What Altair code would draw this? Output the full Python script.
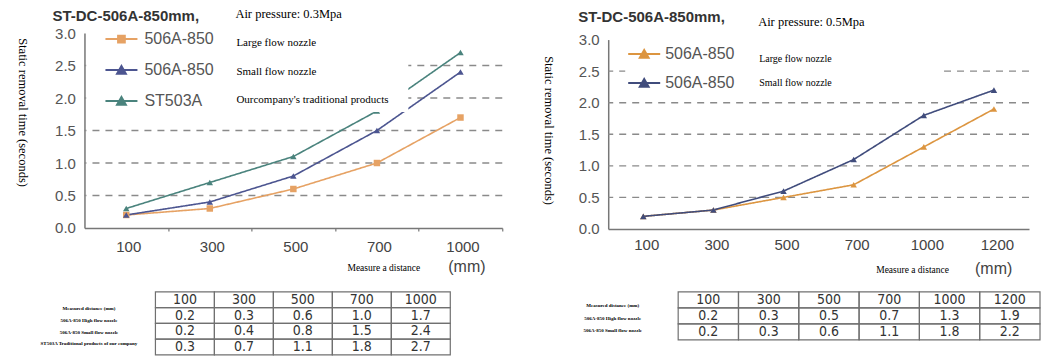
import altair as alt
import pandas as pd

# ---------------- data ----------------
dist_l = ["100", "300", "500", "700", "1000"]
large_l = [0.2, 0.3, 0.6, 1.0, 1.7]
small_l = [0.2, 0.4, 0.8, 1.5, 2.4]
trad_l = [0.3, 0.7, 1.1, 1.8, 2.7]

dist_r = ["100", "300", "500", "700", "1000", "1200"]
large_r = [0.2, 0.3, 0.5, 0.7, 1.3, 1.9]
small_r = [0.2, 0.3, 0.6, 1.1, 1.8, 2.2]

series_l = ["506A-850 L", "506A-850 S", "ST503A"]
series_r = ["506A-850 L", "506A-850 S"]
desc_l = ["Large flow nozzle", "Small flow nozzle", "Ourcompany's traditional products"]
desc_r = ["Large  flow nozzle", "Small flow nozzle"]
rows_l = ["Measured distance (mm)", "506A-850 High flow nozzle",
          "506A-850 Small flow nozzle", "ST503A Traditional products of our company"]
rows_r = rows_l[:3]

title_main = "ST-DC-506A-850mm,"
press_l = "Air pressure: 0.3Mpa"
press_r = "Air pressure: 0.5Mpa"
y_title = "Static removal time (seconds)"
x_title = "Measure a distance"
unit_txt = "(mm)"
y_ticks = [0.0, 0.5, 1.0, 1.5, 2.0, 2.5, 3.0]
grid_vals = [0.5, 1.0, 1.5, 2.0, 2.5]

colors_l = ["#e6a264", "#4c5590", "#4a837d"]
colors_r = ["#dc9540", "#404c7c"]
shapes_l = ["square", "triangle-up", "triangle-up"]
shapes_r = ["triangle-up", "triangle-up"]

SANS = "Liberation Sans"
SERIF = "Liberation Serif"
NARROW = "Liberation Sans Narrow, DejaVu Sans Condensed, Liberation Sans"
NBSP = "\u00a0"
ZWSP = "\u200b"

TRI = "M-2,0H2M-0.55,0.45L0,-0.5L0.55,0.45Z"
SQR = "M-2,0H2M-0.42,-0.42H0.42V0.42H-0.42Z"


def make_plot(dist, vals, series, desc, colors, shapes, press, L):
    recs = []
    for s, d, vv in zip(series, desc, vals):
        for x, v in zip(dist, vv):
            recs.append({"dist": x, "value": v, "series": s, "mk": s + " marker", "desc": d})
    df = pd.DataFrame(recs)
    markers = [s + " marker" for s in series]
    W, H = L["w"], L["h"]
    step = W / len(dist)

    xaxis = alt.Axis(
        labelAngle=0, labelFont=SANS, labelFontSize=15, labelColor="#444",
        labelPadding=L["lp"], domainColor="#777", domainWidth=1.5,
        ticks=L["ticks"], tickSize=3, tickColor="#777", tickWidth=1.2,
        tickOffset=(step / 2 if L["ticks"] else 0),
        labelOffset=((-step / 2 + 2) if L["ticks"] else 3),
        grid=False, titleFont=SERIF, titleFontSize=9.5, titleFontWeight="normal",
        titleColor="black", titleX=L["xtx"], titleY=L["xty"], titleAlign="center",
        titleBaseline="middle")
    xenc = alt.X("dist:O", sort=dist, title=x_title,
                 scale=alt.Scale(type="point", padding=0.5), axis=xaxis)

    yscale = alt.Scale(domain=[0, 3], nice=False, range=L["yrange"])
    yaxis = alt.Axis(
        values=y_ticks, format=".1f", labelFont=SANS, labelFontSize=15, labelColor="#555",
        labelPadding=9, ticks=False, domainColor="#777", domainWidth=1.5, grid=False,
        titleFont=SERIF, titleFontSize=12.5, titleFontWeight="normal", titleColor="black",
        titleAngle=90, titleX=L["ytx"], titleY=L["yty"], titleAlign="center",
        titleBaseline="middle")
    yenc = alt.Y("value:Q", title=y_title, scale=yscale, axis=yaxis)

    grid = alt.Chart(pd.DataFrame({"value": grid_vals})).mark_rule(
        color="#8a8a8a", strokeDash=[7, 6], strokeWidth=1.4).encode(
        y=alt.Y("value:Q", scale=yscale, axis=yaxis, title=y_title))

    # series legend: white box that hides what lies under it
    color_legend = alt.Legend(
        orient="none", legendX=L["cx"], legendY=L["cy"], title=None, direction="vertical",
        labelExpr="split(datum.label, ' ')[0] + '" + NBSP * L["cpad"] + ZWSP + "'",
        labelFont=SANS, labelFontSize=16, labelColor="#555", labelLimit=900,
        symbolType=L["sym"], symbolSize=256, symbolStrokeWidth=2, symbolOffset=L["cso"],
        labelOffset=L["clo"], rowPadding=L["crp"], padding=3, fillColor="white", zindex=1)
    cscale = alt.Scale(domain=series, range=colors)
    color = alt.Color("series:N", scale=cscale, legend=color_legend)

    # description legend (serif notes) with the air-pressure note as its title
    desc_legend = alt.Legend(
        orient="none", legendX=L["dlx"], legendY=L["dly"], direction="vertical",
        title=press, titleFont=SERIF, titleFontSize=12.5, titleFontWeight="normal",
        titleColor="black", titleAnchor="start", titleAlign="left", titlePadding=L["dtp"],
        titleLimit=600,
        labelFont=SERIF, labelFontSize=L["dfs"], labelColor="black", labelLimit=600,
        labelOffset=alt.ExprRef(expr="-13"), symbolType="square", symbolSize=196,
        symbolStrokeWidth=0, symbolOpacity=0, padding=0, rowPadding=L["drp"], zindex=2)
    dash = alt.StrokeDash("desc:N", scale=alt.Scale(domain=desc, range=[[1, 0]] * len(desc)),
                          legend=desc_legend)

    lines = alt.Chart(df).mark_line(strokeWidth=1.6).encode(
        x=xenc, y=yenc, color=color, strokeDash=dash)
    points = alt.Chart(df).mark_point(filled=True, size=42, opacity=1).encode(
        x=xenc, y=yenc,
        color=alt.Color("series:N", scale=cscale, legend=None),
        shape=alt.Shape("mk:N", scale=alt.Scale(domain=markers, range=shapes), legend=None))

    return alt.layer(grid, lines, points).properties(
        width=W, height=H,
        title=alt.Title(title_main, font=SANS, fontSize=15, fontWeight="bold", color="#333",
                        anchor="start", frame="group", dx=L["tdx"], dy=L["tdy"], offset=0))


def make_table(dist, vals, rows, L):
    trecs = [{"row": rows[0], "col": c, "txt": c} for c in dist]
    for r, vv in zip(rows[1:], vals):
        for c, v in zip(dist, vv):
            trecs.append({"row": r, "col": c, "txt": "%.1f" % v})
    tdf = pd.DataFrame(trecs)
    tx = alt.X("col:O", sort=dist, axis=None,
               scale=alt.Scale(range=L["trange"], paddingInner=0, paddingOuter=0))
    ty = alt.Y("row:O", sort=rows, axis=None,
               scale=alt.Scale(paddingInner=0, paddingOuter=0))
    rects = alt.Chart(tdf).mark_rect(fillOpacity=0, stroke="#707070", strokeWidth=1.2).encode(
        x=tx, y=ty)
    texts = alt.Chart(tdf).mark_text(font=NARROW, fontSize=14, color="#333").encode(
        x=tx, y=ty, text="txt:N")
    labs = alt.Chart(pd.DataFrame({"row": rows})).mark_point(opacity=0).encode(
        y=alt.Y("row:O", sort=rows, title=None,
                scale=alt.Scale(type="point", range=L["lrange"], padding=0),
                axis=alt.Axis(orient="left", offset=-4, domain=False, ticks=False, tickSize=0,
                              labelFont=SERIF, labelFontSize=5, labelFontWeight="bold",
                              labelColor="black", labelAlign="center", labelPadding=0,
                              labelLimit=0, labelOverlap=False, title=None)))
    return alt.layer(alt.layer(rects, texts), labs).resolve_scale(y="independent").properties(
        width=L["w"], height=L["th"],
        title=alt.Title(unit_txt, font=SANS, fontSize=16, fontWeight="normal", color="#444",
                        anchor="start", frame="group", dx=L["udx"], offset=L["uoff"]))


L_left = dict(w=418, h=195, yrange=[195, 0], lp=9, ticks=True, xtx=299, xty=40,
              ytx=-62, yty=79,
              sym=alt.ExprRef(expr="datum.value === '506A-850 L' ? '%s' : '%s'" % (SQR, TRI)),
              cx=2, cy=-6, cso=23, clo=14, crp=14, cpad=43,
              dlx=151, dly=-25, dtp=15.5, dfs=11, drp=14.5,
              tdx=-32, tdy=16,
              trange=[71, 366], th=63, lrange=[16, 51], udx=364, uoff=16)
L_right = dict(w=421, h=196, yrange=[196, 6.5], lp=9, ticks=False, xtx=304, xty=41,
               ytx=-60, yty=97, sym=TRI,
               cx=17, cy=9, cso=7, clo=12, crp=12, cpad=46,
               dlx=150, dly=-17.25, dtp=23.5, dfs=10, drp=10,
               tdx=-30, tdy=9.25,
               trange=[70, 432], th=48, lrange=[13, 38], udx=367, uoff=14)

plot_l = make_plot(dist_l, [large_l, small_l, trad_l], series_l, desc_l,
                   colors_l, shapes_l, press_l, L_left)
plot_r = make_plot(dist_r, [large_r, small_r], series_r, desc_r,
                   colors_r, shapes_r, press_r, L_right)
table_l = make_table(dist_l, [large_l, small_l, trad_l], rows_l, L_left)
table_r = make_table(dist_r, [large_r, small_r], rows_r, L_right)

chart = alt.concat(plot_l, plot_r, table_l, table_r, columns=2,
                   spacing={"row": 63, "column": 106}, bounds="flush").resolve_scale(
    color="independent", shape="independent", strokeDash="independent"
).resolve_legend(
    color="independent", shape="independent", strokeDash="independent"
).properties(
    padding={"left": 7.5, "top": 0, "right": 4, "bottom": 2},
    background="white",
).configure_view(stroke=None)

chart.save("out.html", embed_options={"renderer": "svg", "actions": False})
